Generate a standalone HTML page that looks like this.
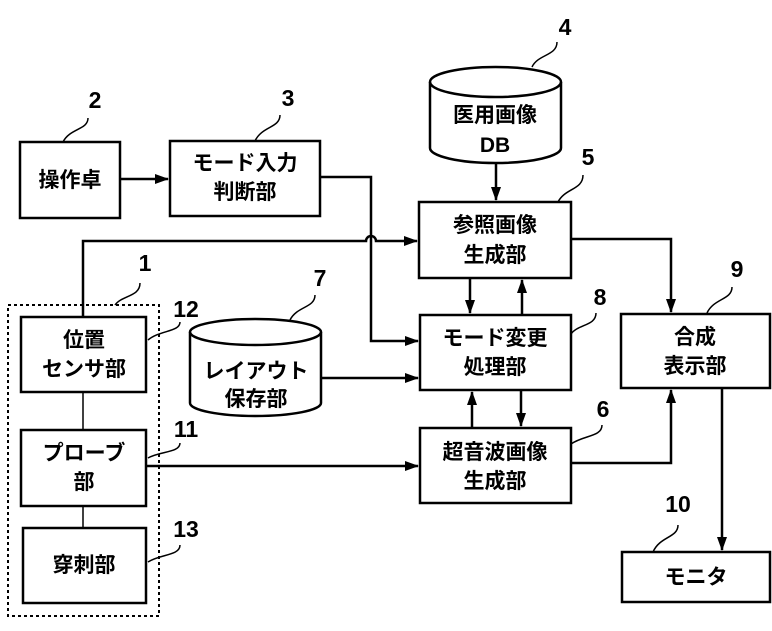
<!DOCTYPE html>
<html><head><meta charset="utf-8"><style>
html,body{margin:0;padding:0;background:#fff;}
svg{display:block;}
text{font-family:"Liberation Sans","Noto Sans CJK JP",sans-serif;font-size:21px;font-weight:bold;fill:#000;text-anchor:middle;}
.n{font-size:23px;}
</style></head><body>
<svg width="772" height="631" viewBox="0 0 772 631" xmlns="http://www.w3.org/2000/svg">
<defs><marker id="a" markerWidth="14" markerHeight="10" refX="13" refY="5" orient="auto" markerUnits="userSpaceOnUse"><path d="M0,0 L14,5 L0,10 Z" fill="#000"/></marker></defs>
<g fill="none" stroke="#000" stroke-width="2.5">
<rect x="20" y="142" width="100" height="76"/>
<rect x="170" y="141" width="150" height="75"/>
<rect x="419" y="202" width="152" height="76"/>
<rect x="420" y="315" width="151" height="75"/>
<rect x="420" y="428" width="151" height="75"/>
<rect x="621" y="314" width="149" height="74"/>
<rect x="622" y="552" width="148" height="50"/>
<rect x="21" y="317" width="125" height="75"/>
<rect x="21" y="430" width="125" height="76"/>
<rect x="23" y="528" width="123" height="75"/>
<path d="M430,82 L430,148 A65.5,15 0 0 0 561,148 L561,82"/>
<ellipse cx="495.5" cy="82" rx="65.5" ry="15"/>
<path d="M190,332 L190,403 A65.5,13 0 0 0 321,403 L321,332"/>
<ellipse cx="255.5" cy="332" rx="65.5" ry="13"/>
</g>
<rect x="8" y="305" width="151" height="311" fill="none" stroke="#000" stroke-width="2" stroke-dasharray="3,3"/>
<g fill="none" stroke="#000" stroke-width="2.5">
<line x1="120" y1="179" x2="168" y2="179" marker-end="url(#a)"/>
<path d="M320,177 L371,177 L371,341 L418,341" marker-end="url(#a)"/>
<path d="M83,317 L83,241 L366,241 A5,5 0 0 1 376,241 L417,241" marker-end="url(#a)"/>
<line x1="496" y1="163" x2="496" y2="200" marker-end="url(#a)"/>
<line x1="321" y1="378" x2="418" y2="378" marker-end="url(#a)"/>
<line x1="470" y1="278" x2="470" y2="313" marker-end="url(#a)"/>
<line x1="522" y1="315" x2="522" y2="280" marker-end="url(#a)"/>
<line x1="472" y1="428" x2="472" y2="392" marker-end="url(#a)"/>
<line x1="521" y1="390" x2="521" y2="426" marker-end="url(#a)"/>
<line x1="146" y1="466" x2="418" y2="466" marker-end="url(#a)"/>
<path d="M571,239 L671,239 L671,312" marker-end="url(#a)"/>
<path d="M571,463 L671,463 L671,390" marker-end="url(#a)"/>
<line x1="722" y1="388" x2="722" y2="550" marker-end="url(#a)"/>
</g>
<g fill="none" stroke="#000" stroke-width="1.5">
<line x1="83" y1="392" x2="83" y2="430"/>
<line x1="83" y1="506" x2="83" y2="528"/>
<path d="M88,118 C88,130 70,128 63,142"/>
<path d="M280,115 C280,128 262,126 255,141"/>
<path d="M557,42 C557,56 538,54 532,67"/>
<path d="M583,175 C583,190 565,188 558,202"/>
<path d="M140,283 C140,297 122,295 115,305"/>
<path d="M180,322 C180,332 160,330 148,340"/>
<path d="M315,295 C315,308 297,306 290,320"/>
<path d="M596,313 C596,326 578,324 571,334"/>
<path d="M732,287 C732,300 714,298 707,313"/>
<path d="M180,443 C180,453 160,451 148,458"/>
<path d="M602,425 C602,437 584,435 571,444"/>
<path d="M180,545 C180,556 160,554 148,562"/>
<path d="M678,525 C678,538 660,536 653,552"/>
</g>
<text x="70" y="187">操作卓</text>
<text x="245" y="170">モード入力</text>
<text x="245" y="199">判断部</text>
<text x="495" y="122">医用画像</text>
<text x="495" y="152">DB</text>
<text x="495" y="232">参照画像</text>
<text x="495" y="262">生成部</text>
<text x="495" y="345">モード変更</text>
<text x="495" y="374">処理部</text>
<text x="495" y="459">超音波画像</text>
<text x="495" y="488">生成部</text>
<text x="695" y="344">合成</text>
<text x="695" y="373">表示部</text>
<text x="696" y="584">モニタ</text>
<text x="84" y="347">位置</text>
<text x="84" y="376">センサ部</text>
<text x="84" y="460">プローブ</text>
<text x="84" y="489">部</text>
<text x="84" y="572">穿刺部</text>
<text x="256" y="378">レイアウト</text>
<text x="256" y="406">保存部</text>
<text class="n" x="95" y="108">2</text>
<text class="n" x="288" y="106">3</text>
<text class="n" x="565" y="35">4</text>
<text class="n" x="588" y="165">5</text>
<text class="n" x="145" y="271">1</text>
<text class="n" x="186" y="317">12</text>
<text class="n" x="320" y="286">7</text>
<text class="n" x="600" y="305">8</text>
<text class="n" x="737" y="277">9</text>
<text class="n" x="186" y="437">11</text>
<text class="n" x="603" y="417">6</text>
<text class="n" x="186" y="537">13</text>
<text class="n" x="678" y="512">10</text>
</svg>
</body></html>
